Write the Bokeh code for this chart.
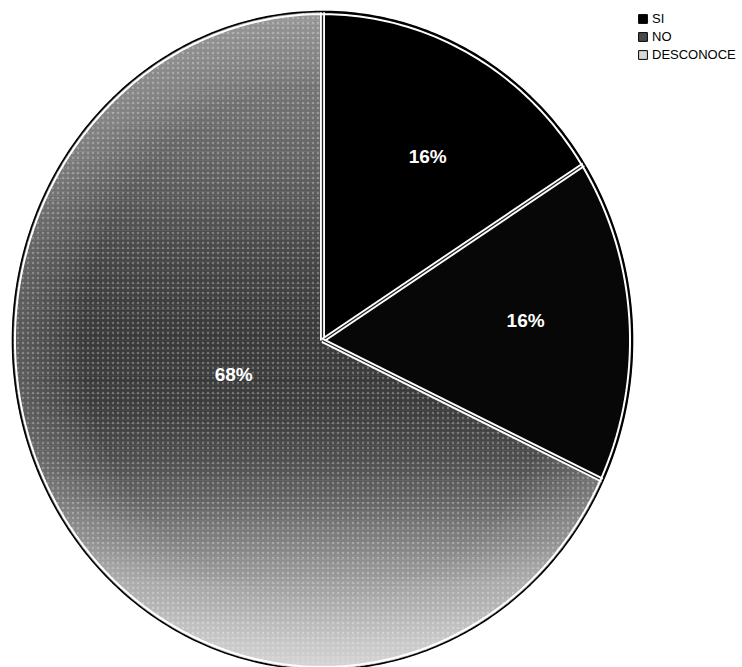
import numpy as np
from bokeh.plotting import figure
from bokeh.models import Range1d, Legend, LegendItem
from bokeh.core.properties import value
from bokeh.embed import file_html
from bokeh.resources import INLINE

# ---- data -------------------------------------------------------------
categories = ["SI", "NO", "DESCONOCE"]
percentages = [16, 16, 68]

# ---- style / layout ---------------------------------------------------
W, H = 742, 667
CX, CY = 322, 340          # pie centre in pixels (from top-left)
RX, RY = 310, 329          # pie radii in pixels (slightly oval)
slice_fill = {"SI": "#000000", "NO": "#070707"}
legend_fill = {"SI": "#000000", "NO": "#4a4a4a", "DESCONOCE": "#d8d8d8"}
# label anchor for each slice: (radius fraction, angle in degrees)
label_anchor = {"SI": (0.655, 58.8), "NO": (0.658, 5.3), "DESCONOCE": (0.305, -160.0)}
# vertical shading of the large slice: (pixel row, grey level)
shade_stops = [(0, 138), (75, 118), (150, 102), (200, 88), (260, 70), (330, 58),
               (400, 60), (450, 74), (500, 100), (550, 136), (600, 170),
               (640, 192), (667, 204)]

p = figure(width=W, height=H,
           x_range=Range1d(-CX / RX, (W - CX) / RX),
           y_range=Range1d(-(H - CY) / RY, CY / RY),
           output_backend="svg", toolbar_location=None, min_border=0)
p.axis.visible = False
p.grid.visible = False
p.outline_line_color = None
p.background_fill_color = "white"
p.border_fill_color = "white"

# ---- shaded body (the DESCONOCE slice shows through) ------------------
rows = np.array([s[0] for s in shade_stops], dtype=float)
levels = np.array([s[1] for s in shade_stops], dtype=float)
n_bands = 150
edges = np.linspace(-1.0, 1.0, n_bands + 1)
bx, by, bc = [], [], []
for ya, yb in zip(edges[:-1], edges[1:]):
    ys = np.linspace(ya, yb, 6)
    xr = np.sqrt(np.clip(1 - ys ** 2, 0, None))
    bx.append(np.concatenate([xr, -xr[::-1]]).tolist())
    by.append(np.concatenate([ys, ys[::-1]]).tolist())
    pix = CY - RY * (ya + yb) / 2
    g = int(round(np.interp(pix, rows, levels)))
    bc.append("#%02x%02x%02x" % (g, g, g))
p.patches(xs=bx, ys=by, fill_color=bc, line_color=bc, line_width=0.6)

# ---- slice angles (clockwise from 12 o'clock) -------------------------
bounds = []
cum = 0.0
slice_angles = {}
for cat, pct in zip(categories, percentages):
    a0 = 90 - 360 * cum / 100
    cum += pct
    a1 = 90 - 360 * cum / 100
    slice_angles[cat] = (a0, a1)
    bounds.append(a0)

# speckled texture and a softly paler rim on the large slice
a0, a1 = slice_angles["DESCONOCE"]
t = np.radians(np.linspace(a0, a1, 200))
p.patch([0.0] + np.cos(t).tolist(), [0.0] + np.sin(t).tolist(),
        fill_alpha=0, line_color=None,
        hatch_pattern="dot", hatch_color="white", hatch_alpha=0.28,
        hatch_scale=5, hatch_weight=1)
for r_in in np.linspace(0.78, 0.96, 8):
    ring_x = np.concatenate([r_in * np.cos(t), np.cos(t[::-1])])
    ring_y = np.concatenate([r_in * np.sin(t), np.sin(t[::-1])])
    p.patch(ring_x, ring_y, fill_color="white", fill_alpha=0.025, line_color=None)

for cat in ["SI", "NO"]:
    a0, a1 = slice_angles[cat]
    t = np.radians(np.linspace(a0, a1, 80))
    xs = [0.0] + np.cos(t).tolist()
    ys = [0.0] + np.sin(t).tolist()
    p.patch(xs, ys, fill_color=slice_fill[cat], line_color=None)

# white double edges between slices
for a in bounds:
    r = np.radians(a)
    p.line([0, np.cos(r)], [0, np.sin(r)], line_color="white", line_width=5)
    p.line([0, np.cos(r)], [0, np.sin(r)], line_color="#222222", line_width=1.3)

# rim
t = np.linspace(0, 2 * np.pi, 400)
p.line(0.992 * np.cos(t), 0.992 * np.sin(t), line_color="white", line_width=2)
p.line(np.cos(t), np.sin(t), line_color="black", line_width=1.6)

# ---- percentage labels ------------------------------------------------
lx, ly, lt = [], [], []
for cat, pct in zip(categories, percentages):
    r, ang = label_anchor[cat]
    lx.append(r * np.cos(np.radians(ang)))
    ly.append(r * np.sin(np.radians(ang)))
    lt.append(f"{pct}%")
p.text(x=lx, y=ly, text=lt, text_color="white", text_font=value("Liberation Sans"),
       text_font_style="bold", text_font_size="19px",
       text_align="center", text_baseline="middle")

# ---- legend -----------------------------------------------------------
items = []
for cat in categories:
    r = p.rect(x=[50], y=[50], width=0.01, height=0.01, fill_color=legend_fill[cat],
               line_color="black", line_width=1)
    items.append(LegendItem(label=cat, renderers=[r]))
legend = Legend(items=items, location=(637, 605), padding=0, margin=0,
                border_line_color=None, background_fill_alpha=0,
                glyph_width=11, glyph_height=11, label_height=15, spacing=3,
                label_standoff=4, label_text_font="Liberation Sans",
                label_text_font_size="13px", label_text_color="black")
p.add_layout(legend)

open("out.html", "w").write(file_html(p, INLINE))
